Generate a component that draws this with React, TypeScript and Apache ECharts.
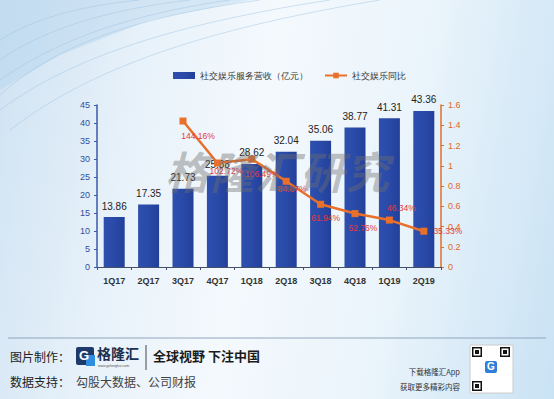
import React, { useEffect, useRef } from "react";
import * as echarts from "echarts";

const categories = ["1Q17", "2Q17", "3Q17", "4Q17", "1Q18", "2Q18", "3Q18", "4Q18", "1Q19", "2Q19"];
const revenue = [13.86, 17.35, 21.73, 25.38, 28.62, 32.04, 35.06, 38.77, 41.31, 43.36];
const growth: (number | null)[] = [null, null, 1.4416, 1.0272, 1.0649, 0.8467, 0.6194, 0.5276, 0.4634, 0.3533];
const growthLabelOffsets: [number, number][] = [
  [0, 0], [0, 0], [15, 15], [9, 8], [10, 15], [6, 8], [5, 14], [8, 14], [12, -12], [24, 0],
];

const BAR_NAME = "社交娱乐服务营收（亿元）";
const LINE_NAME = "社交娱乐同比";
const WATERMARK = "格隆汇研究";

export default function App() {
  const ref = useRef<HTMLDivElement>(null);
  useEffect(() => {
    document.body.style.margin = "0";
    const chart = echarts.init(ref.current!, undefined, { renderer: "svg" });
    const qrCells: any[] = [];
    const finder = (x: number, y: number) => [
      { type: "rect", shape: { x, y, width: 10, height: 10 }, style: { fill: "#111" } },
      { type: "rect", shape: { x: x + 1.5, y: y + 1.5, width: 7, height: 7 }, style: { fill: "#fff" } },
      { type: "rect", shape: { x: x + 3, y: y + 3, width: 4, height: 4 }, style: { fill: "#111" } },
    ];
    qrCells.push(...finder(472, 347), ...finder(500, 347), ...finder(472, 381));
    const decoCurves: any[] = [];
    const curveDefs: [number, number, number, number, number, number, number, number][] = [
      [0, 95, 60, 40, 150, 15, 260, 0],
      [0, 80, 70, 30, 160, 10, 230, 0],
      [0, 60, 50, 25, 120, 8, 190, 0],
      [0, 110, 80, 50, 200, 20, 330, 0],
      [10, 130, 100, 60, 230, 25, 380, 0],
      [0, 40, 40, 15, 90, 5, 140, 0],
    ];
    curveDefs.forEach(([x1, y1, cx1, cy1, cx2, cy2, x2, y2]) =>
      decoCurves.push({
        type: "bezierCurve",
        shape: { x1, y1, cpx1: cx1, cpy1: cy1, cpx2: cx2, cpy2: cy2, x2, y2 },
        style: { stroke: "rgba(160,195,225,0.6)", lineWidth: 0.8, fill: null },
        z: -1,
      })
    );
    const watermark = WATERMARK.split("").map((ch, i) => ({
      type: "text",
      x: 165 + i * 45,
      y: 148,
      z: 10,
      style: {
        text: ch,
        font: "italic bold 44px 'Noto Sans CJK SC', sans-serif",
        fill: "rgba(110,110,110,0.42)",
      },
    }));
    chart.setOption({
      animation: false,
      backgroundColor: "transparent",
      legend: {
        top: 66,
        left: 168,
        itemWidth: 22,
        itemHeight: 7,
        itemGap: 16,
        textStyle: { fontSize: 9, color: "#333" },
        data: [
          { name: BAR_NAME, icon: "rect" },
          { name: LINE_NAME },
        ],
      },
      grid: { left: 97, right: 113, top: 105, bottom: 132 },
      xAxis: {
        type: "category",
        data: categories,
        axisLine: { lineStyle: { color: "#44506a", width: 1 } },
        axisTick: { show: true, length: 3, lineStyle: { color: "#44506a" } },
        axisLabel: { fontSize: 9, fontWeight: "bold", color: "#333", margin: 9 },
      },
      yAxis: [
        {
          type: "value",
          min: 0,
          max: 45,
          interval: 5,
          axisLine: { show: true, lineStyle: { color: "#3a5aa8", width: 1.5 } },
          axisTick: { show: true, length: 3, lineStyle: { color: "#3a5aa8" } },
          axisLabel: { fontSize: 9, color: "#2f4f9f", margin: 7 },
          splitLine: { show: false },
        },
        {
          type: "value",
          min: 0,
          max: 1.6,
          interval: 0.2,
          axisLine: { show: true, lineStyle: { color: "#e07028", width: 1.5 } },
          axisTick: { show: true, length: 3, lineStyle: { color: "#e07028" } },
          axisLabel: {
            fontSize: 9,
            color: "#e0691f",
            margin: 7,
            formatter: (v: number) => String(parseFloat(v.toFixed(1))),
          },
          splitLine: { show: false },
        },
      ],
      series: [
        {
          name: BAR_NAME,
          type: "bar",
          data: revenue,
          barWidth: 21,
          itemStyle: {
            color: new echarts.graphic.LinearGradient(0, 0, 1, 0, [
              { offset: 0, color: "#2d4fae" },
              { offset: 0.5, color: "#2a4aa8" },
              { offset: 1, color: "#22409a" },
            ]),
          },
          label: { show: true, position: "top", distance: 6, fontSize: 10, color: "#222" },
          z: 2,
        },
        {
          name: LINE_NAME,
          type: "line",
          yAxisIndex: 1,
          data: growth.map((v, i) =>
            v == null
              ? null
              : {
                  value: v,
                  label: {
                    show: true,
                    position: "inside",
                    offset: growthLabelOffsets[i],
                    formatter: (v * 100).toFixed(2) + "%",
                  },
                }
          ),
          symbol: "rect",
          symbolSize: 7,
          lineStyle: { color: "#e8702a", width: 2.5 },
          itemStyle: { color: "#e8702a" },
          label: { fontSize: 8.5, color: "#e23a3a" },
          z: 3,
        },
      ],
      graphic: [
        {
          type: "polygon",
          shape: { points: [[0, 0], [250, 0], [150, 20], [60, 55], [0, 90]] },
          style: { fill: "rgba(170,205,235,0.35)" },
          z: -2,
        },
        ...decoCurves,
        ...watermark,
        { type: "line", shape: { x1: 8, y1: 338, x2: 546, y2: 338 }, style: { stroke: "#8fa6bf", lineWidth: 1 } },
        { type: "text", left: 10, top: 350, style: { text: "图片制作：", fontSize: 12, fill: "#222", fontFamily: "Noto Sans CJK SC" } },
        { type: "rect", shape: { x: 76, y: 347, width: 18, height: 18, r: 2 }, style: { fill: "#1e3a6b" } },
        { type: "rect", shape: { x: 86, y: 355, width: 9, height: 11 }, style: { fill: "#2f8de0" } },
        { type: "text", left: 79, top: 349, style: { text: "G", fontSize: 13, fontWeight: "bold", fill: "#fff" } },
        { type: "text", left: 97, top: 346, style: { text: "格隆汇", fontSize: 14, fontWeight: "bold", fill: "#1e2f4f", fontFamily: "Noto Sans CJK SC" } },
        { type: "text", left: 98, top: 364, style: { text: "www.gelonghui.com", fontSize: 3.5, fill: "#555" } },
        { type: "line", shape: { x1: 146, y1: 345, x2: 146, y2: 370 }, style: { stroke: "#445", lineWidth: 1 } },
        { type: "text", left: 153, top: 349, style: { text: "全球视野 下注中国", fontSize: 13, fontWeight: "bold", fill: "#1b1b1b", fontFamily: "Noto Sans CJK SC" } },
        { type: "text", left: 10, top: 375, style: { text: "数据支持：", fontSize: 12, fill: "#222", fontFamily: "Noto Sans CJK SC" } },
        { type: "text", left: 76, top: 375, style: { text: "勾股大数据、公司财报", fontSize: 12, fill: "#444", fontFamily: "Noto Sans CJK SC" } },
        { type: "text", right: 94, top: 368, style: { text: "下载格隆汇App", fontSize: 7.5, fill: "#333", fontFamily: "Noto Sans CJK SC" } },
        { type: "text", right: 94, top: 383, style: { text: "获取更多精彩内容", fontSize: 7.5, fill: "#333", fontFamily: "Noto Sans CJK SC" } },
        { type: "rect", shape: { x: 470, y: 345, width: 43, height: 48 }, style: { fill: "#fff", stroke: "#ccc" } },
        ...qrCells,
        { type: "rect", shape: { x: 485, y: 361, width: 12, height: 12, r: 2 }, style: { fill: "#2f7fd8" } },
        { type: "text", left: 487, top: 361, style: { text: "G", fontSize: 10, fontWeight: "bold", fill: "#fff" } },
      ],
    });
    return () => chart.dispose();
  }, []);
  return (
    <div
      style={{
        width: 554,
        height: 399,
        background:
          "linear-gradient(100deg, #cfe2f2 0%, #e8f2fa 25%, #f4f9fd 45%, #eaf4fb 70%, #c9e2f4 100%)",
      }}
    >
      <div ref={ref} style={{ width: 554, height: 399 }} />
    </div>
  );
}
